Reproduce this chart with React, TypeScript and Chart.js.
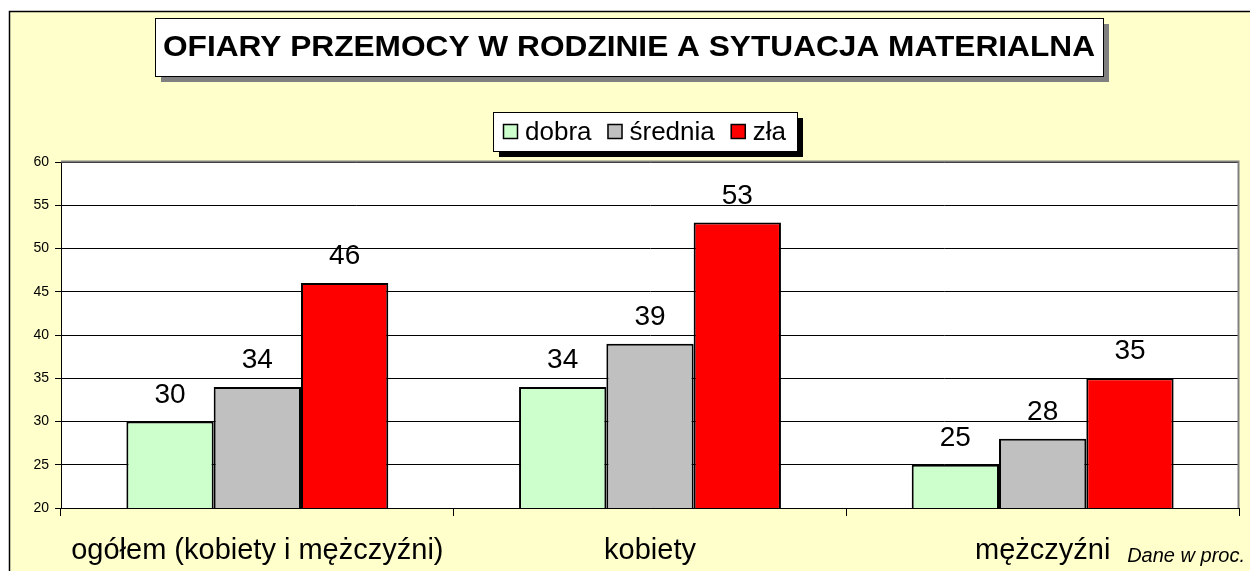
import React, { useEffect, useRef } from "react";
import { Chart, registerables } from "chart.js";

Chart.register(...registerables);

const TITLE = "OFIARY PRZEMOCY W RODZINIE A SYTUACJA MATERIALNA";
const NOTE = "Dane w proc.";
const categories = ["ogółem (kobiety i mężczyźni)", "kobiety", "mężczyźni"];
const seriesLabels = ["dobra", "średnia", "zła"];
const dobra = [30, 34, 25];
const srednia = [34, 39, 28];
const zla = [46, 53, 35];
const seriesColors = ["#CCFFCC", "#C0C0C0", "#FF0000"];
const yMin = 20;
const yMax = 60;
const yStep = 5;

const FONT = "'Liberation Sans', Arial, sans-serif";
const W = 1250;
const H = 571;

const decor = {
  id: "decor",
  beforeDraw(chart: any) {
    const { ctx, chartArea: a } = chart;
    ctx.save();
    ctx.fillStyle = "#ffffff";
    ctx.fillRect(0, 0, W, H);
    ctx.fillStyle = "#FFFFCC";
    ctx.fillRect(9, 11, W, H);
    ctx.strokeStyle = "#000";
    ctx.lineWidth = 1.5;
    ctx.beginPath();
    ctx.moveTo(9.5, H);
    ctx.lineTo(9.5, 11.5);
    ctx.lineTo(W, 11.5);
    ctx.stroke();
    ctx.fillStyle = "#ffffff";
    ctx.fillRect(a.left, a.top, a.right - a.left, a.bottom - a.top);
    ctx.restore();
  },
  afterDraw(chart: any) {
    const { ctx, chartArea: a } = chart;
    ctx.save();
    // plot area border (top/right)
    ctx.strokeStyle = "#808080";
    ctx.lineWidth = 2;
    ctx.beginPath();
    ctx.moveTo(a.left, a.top - 0.5);
    ctx.lineTo(a.right - 0.5, a.top - 0.5);
    ctx.lineTo(a.right - 0.5, a.bottom);
    ctx.stroke();

    // data labels
    ctx.fillStyle = "#000";
    ctx.font = `28px ${FONT}`;
    ctx.textAlign = "center";
    ctx.textBaseline = "alphabetic";
    chart.data.datasets.forEach((ds: any, di: number) => {
      const meta = chart.getDatasetMeta(di);
      meta.data.forEach((bar: any, i: number) => {
        ctx.fillText(String(ds.data[i]), bar.x, bar.y - 19);
      });
    });

    // title box
    const tx = 155, ty = 18, tw = 948, th = 58;
    ctx.fillStyle = "#808080";
    ctx.fillRect(tx + 6, ty + 6, tw, th);
    ctx.fillStyle = "#fff";
    ctx.fillRect(tx, ty, tw, th);
    ctx.strokeStyle = "#000";
    ctx.lineWidth = 1;
    ctx.strokeRect(tx + 0.5, ty + 0.5, tw, th);
    ctx.fillStyle = "#000";
    ctx.font = `bold 30px ${FONT}`;
    const mw = ctx.measureText(TITLE).width;
    const sx = 932 / mw;
    ctx.save();
    ctx.translate(tx + tw / 2, 56);
    ctx.scale(sx, 1);
    ctx.textAlign = "center";
    ctx.fillText(TITLE, 0, 0);
    ctx.restore();

    // legend box
    const lx = 493, ly = 112, lw = 304, lh = 39;
    ctx.fillStyle = "#000";
    ctx.fillRect(lx + 6, ly + 6, lw, lh);
    ctx.fillStyle = "#fff";
    ctx.fillRect(lx, ly, lw, lh);
    ctx.strokeStyle = "#000";
    ctx.lineWidth = 1;
    ctx.strokeRect(lx + 0.5, ly + 0.5, lw, lh);
    ctx.font = `26px ${FONT}`;
    ctx.textAlign = "left";
    let x = lx + 10;
    chart.data.datasets.forEach((ds: any) => {
      ctx.fillStyle = ds.backgroundColor;
      ctx.fillRect(x, 124, 15, 15);
      ctx.strokeStyle = "#000";
      ctx.lineWidth = 1.5;
      ctx.strokeRect(x + 0.5, 124.5, 14, 14);
      ctx.fillStyle = "#000";
      ctx.fillText(ds.label, x + 22, 140);
      x += 22 + ctx.measureText(ds.label).width + 16;
    });

    // note
    ctx.font = `italic 20px ${FONT}`;
    ctx.textAlign = "right";
    ctx.fillStyle = "#000";
    ctx.fillText(NOTE, 1245, 562);
    ctx.restore();
  },
};

export default function App() {
  const ref = useRef<HTMLCanvasElement | null>(null);
  useEffect(() => {
    document.body.style.margin = "0";
    const canvas = ref.current!;
    const data = [dobra, srednia, zla];
    const chart = new Chart(canvas, {
      type: "bar",
      data: {
        labels: categories,
        datasets: seriesLabels.map((l, i) => ({
          label: l,
          data: data[i],
          backgroundColor: seriesColors[i],
          borderColor: "#000",
          borderWidth: 2,
          borderSkipped: false,
          categoryPercentage: 0.667,
          barPercentage: 1,
        })),
      },
      options: {
        responsive: false,
        animation: false,
        devicePixelRatio: 1,
        layout: { padding: { left: 0, top: 162, right: 11, bottom: 0 } },
        plugins: {
          legend: { display: false },
          title: { display: false },
          tooltip: { enabled: false },
        },
        scales: {
          x: {
            afterFit: (s: any) => {
              s.height = 63;
            },
            grid: {
              display: true,
              drawOnChartArea: false,
              drawTicks: true,
              tickLength: 8,
              color: "#000",
              offset: true,
            },
            border: { color: "#000", width: 1 },
            ticks: {
              color: "#000",
              font: { family: FONT, size: 29 },
              padding: 18,
              maxRotation: 0,
              autoSkip: false,
            },
          },
          y: {
            min: yMin,
            max: yMax,
            afterFit: (s: any) => {
              s.width = 61;
            },
            grid: { color: "#000", lineWidth: 1, tickLength: 6 },
            border: { color: "#000", width: 1 },
            ticks: {
              stepSize: yStep,
              color: "#000",
              font: { family: FONT, size: 14 },
              padding: 6,
            },
          },
        },
      },
      plugins: [decor],
    });
    return () => chart.destroy();
  }, []);
  return <canvas ref={ref} width={W} height={H} style={{ display: "block" }} />;
}
